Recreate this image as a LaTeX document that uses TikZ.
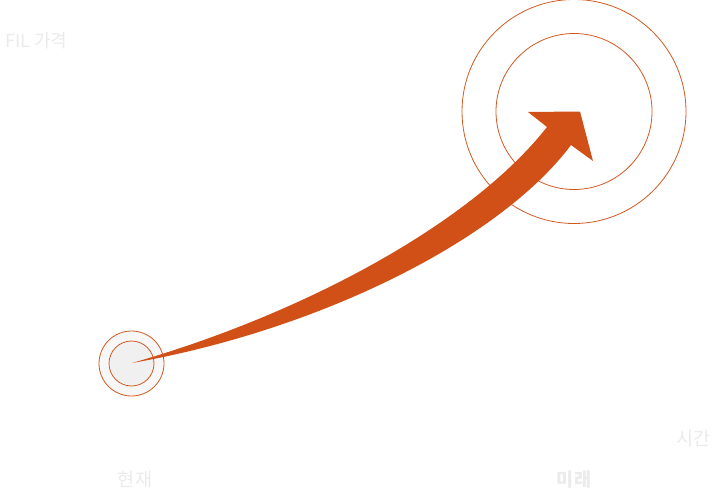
\documentclass[tikz,border=0pt]{standalone}
\usepackage{fontspec}
\newfontfamily\kr{Noto Sans CJK KR}
\definecolor{arrowc}{HTML}{D05018}
\definecolor{ringc}{HTML}{D25A22}
\definecolor{lbl}{HTML}{EBEBEB}
\tikzset{
  ring/.style={circle, draw=ringc, line width=0.8pt, inner sep=0pt},
  lbltext/.style={text=lbl, font=\kr\fontsize{18.5}{22}\selectfont, inner sep=0pt},
}
\begin{document}
\begin{tikzpicture}[x=1pt,y=-1pt]
\useasboundingbox (0,0) rectangle (720,495);
\fill[white] (0,0) rectangle (720,495);
% big target
\node[ring, minimum size=224pt] (outer) at (574,111.5) {};
\node[ring, minimum size=156pt] (inner) at (574,111.5) {};
% small origin
\node[ring, fill=black!3, minimum size=65pt] (souter) at (131.5,363.5) {};
\node[ring, fill=black!6, minimum size=45pt] (sinner) at (131.5,363.5) {};
% arrow
\coordinate (tail) at (132,363);
\coordinate (nl) at (547,127);
\coordinate (nr) at (571,145);
\coordinate (bl) at (528,112);
\coordinate (tip) at (580,111.5);
\coordinate (br) at (593,161);
\fill[arrowc] (tail) .. controls (300,315) and (470,225) .. (nl)
  -- (bl) -- (tip) -- (br) -- (nr)
  .. controls (500,240) and (320,330) .. (tail) -- cycle;
% labels
\node[lbltext, anchor=west, font=\kr\fontsize{18}{22}\selectfont] (price) at (5,40.5) {FIL 가격};
\node[lbltext] (now) at (135,480) {현재};
\node[lbltext, font=\kr\bfseries\fontsize{18.5}{22}\selectfont] (future) at (574,480) {미래};
\node[lbltext] (time) at (693.5,439) {시간};
\end{tikzpicture}
\end{document}
